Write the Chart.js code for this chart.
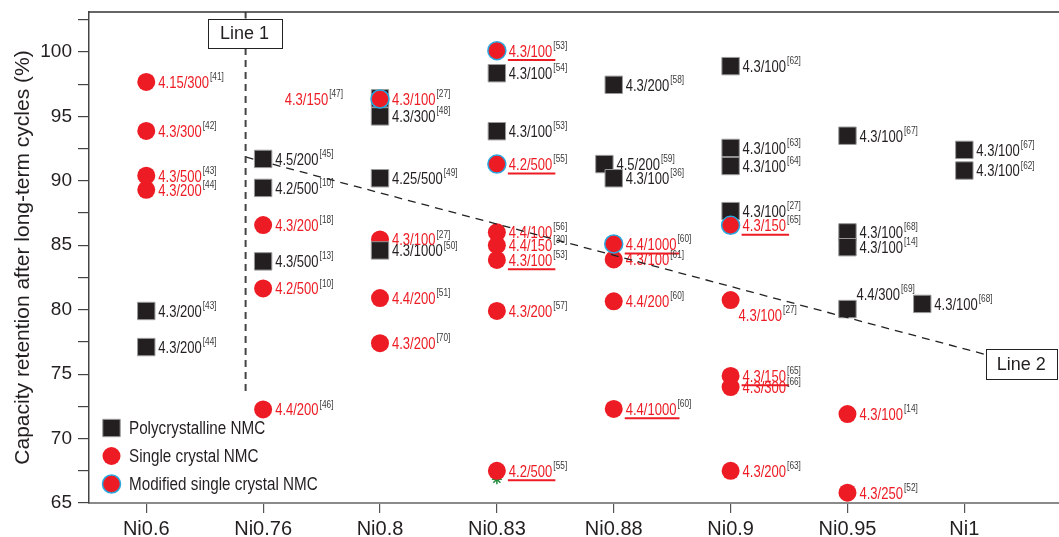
<!DOCTYPE html>
<html><head><meta charset="utf-8">
<script src="https://cdn.jsdelivr.net/npm/chart.js@4.4.0/dist/chart.umd.min.js"></script>
<style>html,body{margin:0;padding:0;background:#fff;overflow:hidden;}#wrap{width:1059px;height:537px;}canvas{display:block;}</style>
</head><body><div id="wrap"><canvas id="c" width="1059" height="537"></canvas></div>
<script>
// ---------- data ----------
const categories = ['Ni0.6','Ni0.76','Ni0.8','Ni0.83','Ni0.88','Ni0.9','Ni0.95','Ni1'];
const yTickLabels = [65,70,75,80,85,90,95,100];

// Polycrystalline NMC
const polyX = [0,0, 1,1,1, 2,2,2,2, 3,3, 3.92,4,4, 5,5,5,5, 6,6,6,6, 7,7,6.64];
const polyY = [79.9,77.1, 91.7,89.45,83.75, 96.4,95.0,90.2,84.6, 98.35,93.85, 91.3,90.2,97.45, 98.9,92.55,91.15,87.65, 93.5,86.0,84.85,80.05, 92.4,90.8,80.45];
const polyText = ['4.3/200','4.3/200','4.5/200','4.2/500','4.3/500','','4.3/300','4.25/500','4.3/1000','4.3/100','4.3/100','4.5/200','4.3/100','4.3/200','4.3/100','4.3/100','4.3/100','4.3/100','4.3/100','4.3/100','4.3/100','4.4/300','4.3/100','4.3/100','4.3/100'];
const polyRef = ['[43]','[44]','[45]','[10]','[13]','','[48]','[49]','[50]','[54]','[53]','[59]','[36]','[58]','[62]','[63]','[64]','[27]','[67]','[68]','[14]','[69]','[67]','[62]','[68]'];
const polyUnderline = polyX.map(() => false);

// Single crystal NMC
const singleX = [0,0,0,0, 1,1,1, 2,2,2,2, 3,3,3,3,3, 4,4,4, 5,5,5,5, 6,6];
const singleY = [97.67,93.87,90.4,89.3, 86.57,81.65,72.26, 96.35,85.45,80.9,77.4, 86.0,85.0,83.86,79.9,67.5, 83.9,80.65,72.3, 80.75,74.86,74.0,67.5, 71.9,65.8];
const singleText = ['4.15/300','4.3/300','4.3/500','4.3/200','4.3/200','4.2/500','4.4/200','4.3/150','4.3/100','4.4/200','4.3/200','4.4/100','4.4/150','4.3/100','4.3/200','4.2/500','4.3/100','4.4/200','4.4/1000','4.3/100','4.3/150','4.3/300','4.3/200','4.3/100','4.3/250'];
const singleRef = ['[41]','[42]','[43]','[44]','[18]','[10]','[46]','[47]','[27]','[51]','[70]','[56]','[30]','[53]','[57]','[55]','[61]','[60]','[60]','[27]','[65]','[66]','[63]','[14]','[52]'];
const singleUnderline = [false,false,false,false,false,false,false,false,false,false,false,false,false,true,false,true,false,false,true,false,true,false,false,false,false];

// Modified single crystal NMC
const modX = [2,3,3,4,5];
const modY = [96.35,100.1,91.3,85.1,86.55];
const modText = ['4.3/100','4.3/100','4.2/500','4.4/1000','4.3/150'];
const modRef = ['[27]','[53]','[55]','[60]','[65]'];
const modUnderline = [false,true,true,true,true];

// small green marker hidden under a red point
const starX = [3];
const starY = [66.85];

// guide lines
const line1X = [0.85,0.85];
const line1Y = [103.1,73.4];
const line2X = [0.85,7.17];
const line2Y = [91.85,76.55];

const legendNames = ['Polycrystalline NMC','Single crystal NMC','Modified single crystal NMC'];

// ---------- helpers ----------
const FONT = '"Liberation Sans", Arial, sans-serif';
const RED = '#ed1c24', BLACK = '#231f20', BLUE = '#29a8e0';
const pts = (xs, ys) => xs.map((x, i) => ({x: x, y: ys[i]}));

function setFont(ctx, size){ ctx.font = size + 'px ' + FONT; }
function scaledW(ctx, s, size, sx){ setFont(ctx, size); return ctx.measureText(s).width * sx; }
function drawScaled(ctx, s, x, y, size, sx, color){
  ctx.save(); setFont(ctx, size); ctx.fillStyle = color;
  ctx.textAlign = 'left'; ctx.textBaseline = 'alphabetic';
  ctx.translate(x, y); ctx.scale(sx, 1); ctx.fillText(s, 0, 0); ctx.restore();
}
const MAIN = 16.5, SUP = 10.5, SX = 0.79;
function drawPointLabel(ctx, px, py, text, ref, color, place, underline){
  if (!text) return;
  const wm = scaledW(ctx, text, MAIN, SX);
  const ws = scaledW(ctx, ref, SUP, SX);
  let x0 = px + place.dx;
  if (place.align === 'right') x0 = px + place.dx - wm - ws - 1;
  const base = py + place.dy + 0.358 * MAIN;
  drawScaled(ctx, text, x0, base, MAIN, SX, color);
  drawScaled(ctx, ref, x0 + wm + 1, base - 7.8, SUP, SX, '#3a3a3a');
  if (underline){
    ctx.save(); ctx.strokeStyle = RED; ctx.lineWidth = 2;
    ctx.beginPath(); ctx.moveTo(x0 - 1, base + 3.5); ctx.lineTo(x0 + wm + 3, base + 3.5); ctx.stroke(); ctx.restore();
  }
}

const specialPlacement = {
  'single:7': {dx: -37, dy: 0, align: 'right'},
  'single:19': {dx: 8, dy: 15, align: 'left'},
  'poly:21': {dx: 9, dy: -15, align: 'left'}
};

const annot = {
  id: 'annot',
  beforeDatasetsDraw(chart){
    const ctx = chart.ctx;
    chart.data.datasets.forEach((ds, di) => {
      if (!ds.pointText) return;
      const meta = chart.getDatasetMeta(di);
      meta.data.forEach((el, j) => {
        const place = specialPlacement[ds.key + ':' + j] || {dx: 12, dy: 0, align: 'left'};
        drawPointLabel(ctx, el.x, el.y, ds.pointText[j], ds.pointRef[j], ds.textColor, place, ds.underline[j]);
      });
    });
  },
  afterDatasetsDraw(chart){
    const ctx = chart.ctx, ca = chart.chartArea;
    const xs = chart.scales.x, ys = chart.scales.y;
    // top frame line
    ctx.save(); ctx.strokeStyle = '#333'; ctx.lineWidth = 1.5;
    ctx.beginPath(); ctx.moveTo(ca.left, ca.top); ctx.lineTo(ca.right, ca.top); ctx.stroke();
    // boxes
    function box(cx, cy, w, h, label){
      ctx.fillStyle = '#fff'; ctx.fillRect(cx - w/2, cy - h/2, w, h);
      ctx.strokeStyle = '#222'; ctx.lineWidth = 1; ctx.strokeRect(Math.round(cx - w/2) + 0.5, Math.round(cy - h/2) + 0.5, w, h);
      setFont(ctx, 18); ctx.fillStyle = BLACK; ctx.textAlign = 'center'; ctx.textBaseline = 'middle';
      ctx.fillText(label, cx, cy + 1);
    }
    box(xs.getPixelForValue(line1X[0]) - 1, ys.getPixelForValue(101.47), 74, 29, 'Line 1');
    const l2left = xs.getPixelForValue(line2X[1]) + 1;
    box(l2left + 36, ys.getPixelForValue(line2Y[1]) + 10, 71, 30, 'Line 2');
    // legend
    const lx = 111.5, lys = [428, 456, 484];
    const styles = [
      {pointStyle: 'rect', radius: 12.3, bg: BLACK, bc: '#9a9a9a', bw: 1},
      {pointStyle: 'circle', radius: 9, bg: RED, bc: RED, bw: 0},
      {pointStyle: 'circle', radius: 9, bg: RED, bc: BLUE, bw: 1.5}
    ];
    styles.forEach((s, i) => {
      ctx.fillStyle = s.bg; ctx.strokeStyle = s.bc; ctx.lineWidth = s.bw;
      Chart.helpers.drawPoint(ctx, {pointStyle: s.pointStyle, radius: s.radius, rotation: 0, borderWidth: s.bw}, lx, lys[i]);
      drawScaled(ctx, legendNames[i], 129, lys[i] + 6.3, 17.5, 0.87, BLACK);
    });
    // y axis title
    ctx.save(); ctx.translate(23, (ca.top + ca.bottom) / 2); ctx.rotate(-Math.PI/2);
    setFont(ctx, 21); ctx.fillStyle = BLACK; ctx.textAlign = 'center'; ctx.textBaseline = 'middle';
    ctx.fillText('Capacity retention after long-term cycles (%)', 0, 0);
    ctx.restore();
    ctx.restore();
  }
};

new Chart(document.getElementById('c'), {
  type: 'scatter',
  data: {
    datasets: [
      {key: 'line1', data: pts(line1X, line1Y), showLine: true, pointRadius: 0, borderColor: '#444', borderWidth: 2, borderDash: [7, 5], fill: false},
      {key: 'line2', data: pts(line2X, line2Y), showLine: true, pointRadius: 0, borderColor: '#222', borderWidth: 1.3, borderDash: [8, 6], fill: false},
      {key: 'mod', label: legendNames[2], data: pts(modX, modY), pointStyle: 'circle', pointRadius: 9, backgroundColor: RED, borderColor: BLUE, borderWidth: 1.5,
        pointText: modText, pointRef: modRef, underline: modUnderline, textColor: RED, clip: false},
      {key: 'poly', label: legendNames[0], data: pts(polyX, polyY), pointStyle: 'rect', pointRadius: 12.3, backgroundColor: BLACK, borderColor: '#9a9a9a', borderWidth: 1,
        pointText: polyText, pointRef: polyRef, underline: polyUnderline, textColor: BLACK, clip: false},
      {key: 'single', label: legendNames[1], data: pts(singleX, singleY), pointStyle: 'circle', pointRadius: 9, backgroundColor: RED, borderColor: RED, borderWidth: 0,
        pointText: singleText, pointRef: singleRef, underline: singleUnderline, textColor: RED, clip: false},
      {key: 'star', data: pts(starX, starY), pointStyle: 'star', pointRadius: 5, backgroundColor: '#1e8c3a', borderColor: '#1e8c3a', borderWidth: 1.5, clip: false}
    ]
  },
  options: {
    responsive: false, animation: false, devicePixelRatio: 1, events: [],
    layout: {autoPadding: false, padding: {top: 12, right: 0, left: 0, bottom: 0}},
    plugins: {legend: {display: false}, tooltip: {enabled: false}},
    scales: {
      x: {
        type: 'linear', min: -0.49, max: 7.81,
        afterBuildTicks(scale){ scale.ticks = categories.map((c, i) => ({value: i})); },
        afterFit(scale){ scale.height = 34; scale.paddingLeft = 0; scale.paddingRight = 0; },
        ticks: {callback: (v) => categories[v] !== undefined ? categories[v] : '', font: {family: FONT, size: 20}, color: BLACK, padding: 4, maxRotation: 0, autoSkip: false},
        grid: {drawOnChartArea: false, tickLength: 10, color: '#555', lineWidth: 1.2},
        border: {color: '#8a8a8a', width: 2}
      },
      y: {
        type: 'linear', min: 65, max: 103.1,
        afterFit(scale){ scale.width = 89; scale.paddingTop = 0; scale.paddingBottom = 0; },
        ticks: {stepSize: 2.5, includeBounds: false, autoSkip: false,
          callback: (v) => yTickLabels.includes(v) ? String(v) : '',
          font: {family: FONT, size: 19}, color: BLACK, padding: 6},
        grid: {drawOnChartArea: false, tickLength: 11, color: '#444', lineWidth: 1.2},
        border: {color: '#444', width: 1.5}
      }
    }
  },
  plugins: [annot]
});
</script>
</body></html>
